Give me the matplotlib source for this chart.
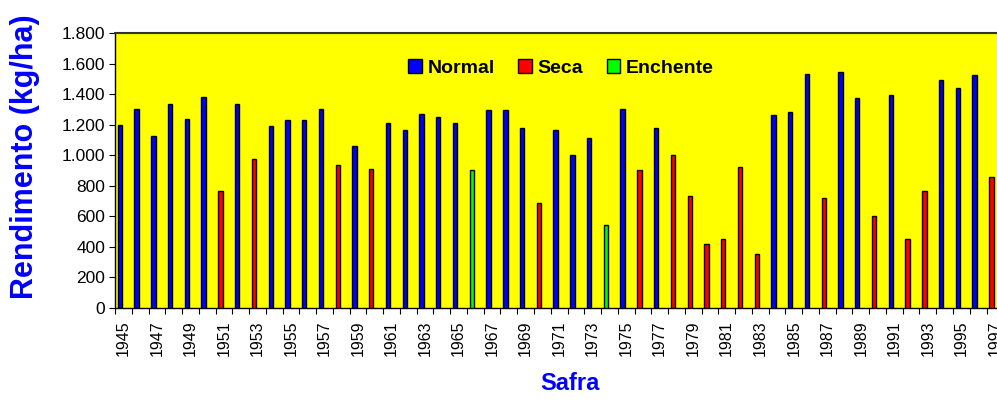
import matplotlib
matplotlib.use("Agg")
import matplotlib.pyplot as plt
from matplotlib.patches import Patch

years = list(range(1945, 1998))
values = [1195, 1302, 1128, 1335, 1237, 1383, 764, 1335, 975, 1193,
          1233, 1228, 1302, 934, 1058, 910, 1211, 1163, 1270, 1252,
          1211, 901, 1294, 1294, 1180, 685, 1163, 1001, 1113, 541,
          1300, 901, 1180, 1001, 731, 421, 454, 925, 353, 1263,
          1283, 1532, 722, 1543, 1372, 602, 1392, 454, 764, 1490,
          1438, 1527, 857]
categories = ["N", "N", "N", "N", "N", "N", "S", "N", "S", "N",
              "N", "N", "N", "S", "N", "S", "N", "N", "N", "N",
              "N", "E", "N", "N", "N", "S", "N", "N", "N", "E",
              "N", "S", "N", "S", "S", "S", "S", "S", "S", "N",
              "N", "N", "S", "N", "N", "S", "N", "S", "S", "N",
              "N", "N", "S"]
series_names = {"N": "Normal", "S": "Seca", "E": "Enchente"}
series_colors = {"N": "#0000FF", "S": "#FF0000", "E": "#00FF00"}
y_ticks = [0, 200, 400, 600, 800, 1000, 1200, 1400, 1600, 1800]
y_tick_labels = ["0", "200", "400", "600", "800", "1.000", "1.200", "1.400", "1.600", "1.800"]

plt.rcParams['font.family'] = ['Liberation Sans', 'DejaVu Sans']

W, H = 997, 401
fig = plt.figure(figsize=(W / 100, H / 100), dpi=100)
fig.patch.set_facecolor("white")

slot_px = 16.76
left_px, top_px, bottom_px = 115, 33, 308
n = len(years)
ax = fig.add_axes([left_px / W, 1 - bottom_px / H, n * slot_px / W, (bottom_px - top_px) / H])
ax.set_facecolor("#FFFF00")

xpos = [i + 0.29 for i in range(n)]
ax.bar(xpos, values, width=0.26, color=[series_colors[c] for c in categories],
       edgecolor="black", linewidth=1.0, zorder=3)

ax.set_xlim(0, n)
ax.set_ylim(0, 1800)
ax.set_yticks(y_ticks)
ax.set_yticklabels(y_tick_labels, fontsize=12.5)

ax.set_xticks(list(range(n + 1)))
ax.set_xticklabels([])
ax.set_xticks([i + 0.5 for i in range(0, n, 2)], minor=True)
ax.set_xticklabels([str(years[i]) for i in range(0, n, 2)], minor=True,
                   rotation=90, fontsize=11.5)
ax.tick_params(axis="x", which="major", length=4, width=0.8, color="black", direction="out")
ax.tick_params(axis="x", which="minor", length=0, pad=9)
ax.tick_params(axis="y", which="major", length=4, width=0.8, direction="out", pad=3)

for s in ["left", "bottom", "top", "right"]:
    ax.spines[s].set_color("black")
    ax.spines[s].set_linewidth(1.0)
ax.spines["top"].set_color("#333333")
ax.spines["top"].set_linewidth(1.5)

handles = [Patch(facecolor=series_colors[k], edgecolor="black", linewidth=1.0,
                 label=series_names[k]) for k in ["N", "S", "E"]]
fig.legend(handles=handles, loc="center", bbox_to_anchor=(561 / W, 1 - 68 / H),
           ncol=3, frameon=False, prop={"weight": "bold", "size": 14},
           handlelength=0.7, handleheight=0.7, handletextpad=0.3,
           columnspacing=1.2, borderpad=0)

fig.text(25 / W, 1 - 157 / H, "Rendimento (kg/ha)", rotation=90, color="#0000FF",
         fontsize=22, fontweight="bold", ha="center", va="center")
fig.text(570 / W, 1 - 383 / H, "Safra", color="#0000FF", fontsize=17,
         fontweight="bold", ha="center", va="center")

fig.savefig("out.png", dpi=100)
